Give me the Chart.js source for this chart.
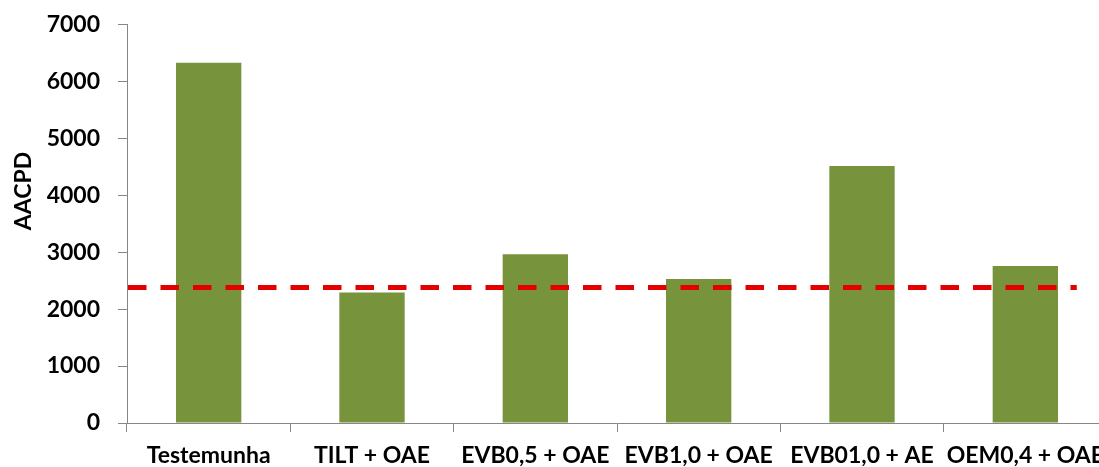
<!DOCTYPE html>
<html>
<head>
<meta charset="utf-8">
<script src="https://cdn.jsdelivr.net/npm/chart.js@4.4.1/dist/chart.umd.min.js"></script>
<style>
  html, body { margin: 0; padding: 0; background: #fff; overflow: hidden; }
  #wrap { position: relative; width: 1130px; height: 467px; }
  #chart { display: block; }
</style>
</head>
<body>
<div id="wrap"><canvas id="chart" width="1130" height="467"></canvas></div>
<script>
// Treatments on the category axis
const categories = ['Testemunha', 'TILT + OAE', 'EVB0,5 + OAE', 'EVB1,0 + OAE', 'EVB01,0 + AE', 'OEM0,4 + OAE'];
// Area under the disease progress curve for each treatment
const aacpd = [6330, 2292, 2966, 2528, 4516, 2756];
// Reference level drawn as the dashed red line
const referenceLevel = 2380;
// Value axis ticks
const yTicks = [0, 1000, 2000, 3000, 4000, 5000, 6000, 7000];
const yTitle = 'AACPD';

const FONT = { family: 'Lato, "Open Sans", sans-serif', size: 23, weight: 'bold', lineHeight: 1 };
const AXIS_GREY = '#868686';

// Dashed horizontal reference line, placed through the value scale
const referenceLine = {
  id: 'referenceLine',
  afterDatasetsDraw(chart) {
    const { ctx, chartArea, scales: { x, y } } = chart;
    const yy = y.getPixelForValue(referenceLevel);
    const step = x.getPixelForValue(1) - x.getPixelForValue(0);
    const xEnd = x.getPixelForValue(categories.length - 1) + step * 0.315;
    ctx.save();
    ctx.strokeStyle = '#e40000';
    ctx.lineWidth = 5;
    ctx.setLineDash([18.5, 14]);
    ctx.beginPath();
    ctx.moveTo(chartArea.left + 1, yy);
    ctx.lineTo(xEnd, yy);
    ctx.stroke();
    ctx.restore();
  }
};

// Rotated value-axis title
const axisTitle = {
  id: 'axisTitle',
  afterDraw(chart) {
    const { ctx } = chart;
    ctx.save();
    ctx.translate(24, 191);
    ctx.rotate(-Math.PI / 2);
    ctx.font = `bold ${FONT.size}px ${FONT.family}`;
    ctx.fillStyle = '#000';
    ctx.textAlign = 'center';
    ctx.textBaseline = 'middle';
    ctx.fillText(yTitle, 0, 0);
    ctx.restore();
  }
};

new Chart(document.getElementById('chart'), {
  type: 'bar',
  data: {
    labels: categories,
    datasets: [{
      data: aacpd,
      backgroundColor: '#77933c',
      borderWidth: 0,
      categoryPercentage: 1,
      barPercentage: 0.4
    }]
  },
  options: {
    responsive: false,
    animation: false,
    layout: { padding: { top: 24.5, right: 23, bottom: 0, left: 0 } },
    plugins: {
      legend: { display: false },
      tooltip: { enabled: false }
    },
    scales: {
      x: {
        grid: { display: true, drawOnChartArea: false, drawTicks: true, tickLength: 9, color: AXIS_GREY, offset: true },
        border: { display: true, color: AXIS_GREY, width: 1 },
        ticks: { color: '#000', font: FONT, padding: 12, maxRotation: 0, autoSkip: false },
        afterFit(scale) { scale.height = 44; }
      },
      y: {
        min: 0,
        max: 7000,
        grid: { display: true, drawOnChartArea: false, drawTicks: true, tickLength: 9, color: AXIS_GREY },
        border: { display: true, color: AXIS_GREY, width: 1 },
        ticks: { color: '#000', font: FONT, padding: 18, callback: v => String(v) },
        afterBuildTicks(scale) { scale.ticks = yTicks.map(v => ({ value: v })); },
        afterFit(scale) {
          scale.width = 127;
          scale.paddingTop = 0;
          scale.paddingBottom = 0;
        }
      }
    }
  },
  plugins: [referenceLine, axisTitle]
});
</script>
</body>
</html>
